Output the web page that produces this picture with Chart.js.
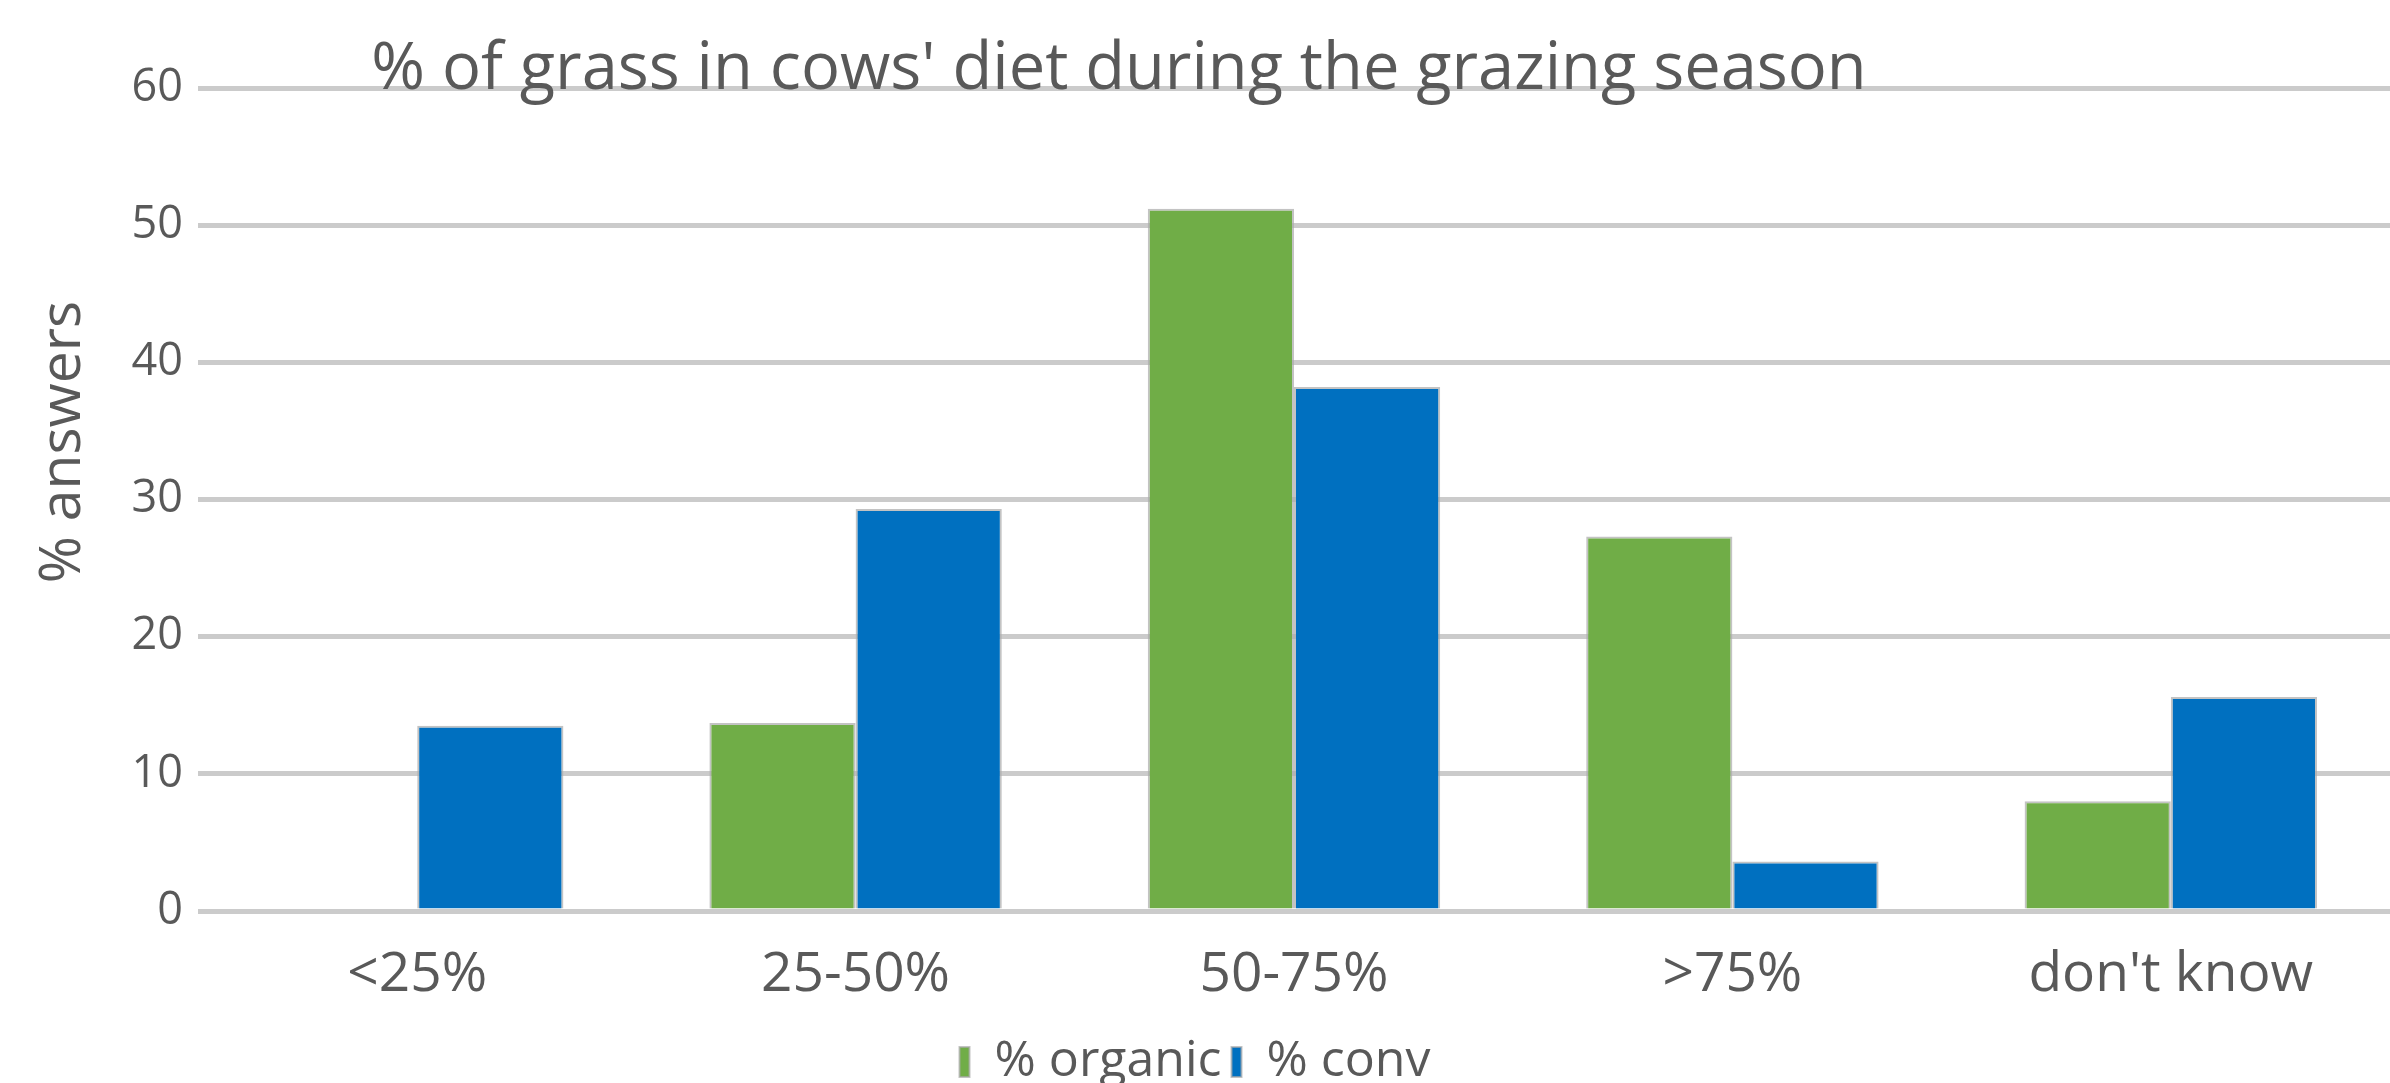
<!DOCTYPE html>
<html lang="en">
<head>
  <meta charset="UTF-8">
  <title>% of grass in cows' diet during the grazing season</title>
  <style>
    html, body { margin: 0; padding: 0; background: #fff; }
    #wrap { width: 2390px; height: 1083px; }
  </style>
</head>
<body>
  <div id="wrap"><canvas id="grassChart" width="2390" height="1083"></canvas></div>

  <script src="https://cdn.jsdelivr.net/npm/chart.js"></script>
  <script>
    // values
    const categories = ['<25%', '25-50%', '50-75%', '>75%', "don't know"];
    const organic = [0, 13.7, 51.2, 27.3, 8.0];
    const conv = [13.5, 29.3, 38.2, 3.6, 15.6];
    const yTicks = [0, 10, 20, 30, 40, 50, 60];

    const chartTitle = "% of grass in cows' diet during the grazing season";
    const yTitle = '% answers';
    const textGray = '#595959';
    const fontFamily = '"Open Sans", "Noto Sans", sans-serif';

    // title sits on the 60 gridline, left of centre; y title sits above the middle
    const titlesPlugin = {
      id: 'offTitles',
      afterDraw(chart) {
        const ctx = chart.ctx;
        ctx.save();
        ctx.fillStyle = textGray;
        ctx.textAlign = 'center';

        ctx.font = '65px ' + fontFamily;
        ctx.textBaseline = 'alphabetic';
        ctx.fillText(chartTitle, 1119, 89);

        ctx.translate(64, 442);
        ctx.rotate(-Math.PI / 2);
        ctx.font = '57px ' + fontFamily;
        ctx.textBaseline = 'middle';
        ctx.fillText(yTitle, 0, 0);
        ctx.restore();
      }
    };

    const ctx = document.getElementById('grassChart').getContext('2d');
    new Chart(ctx, {
      type: 'bar',
      data: {
        labels: categories,
        datasets: [
          {
            label: '% organic',
            data: organic,
            backgroundColor: '#70AD47',
            borderColor: 'rgba(170,170,170,0.7)',
            borderWidth: 2,
            borderSkipped: 'bottom'
          },
          {
            label: '% conv',
            data: conv,
            backgroundColor: '#0070C0',
            borderColor: 'rgba(170,170,170,0.7)',
            borderWidth: 2,
            borderSkipped: 'bottom'
          }
        ]
      },
      options: {
        responsive: false,
        animation: false,
        layout: { padding: { top: 88, right: 0, left: 0, bottom: -14 } },
        datasets: {
          bar: { categoryPercentage: 0.667, barPercentage: 1.0 }
        },
        plugins: {
          title: { display: false },
          tooltip: { enabled: false },
          legend: {
            position: 'bottom',
            labels: {
              color: textGray,
              font: { family: fontFamily, size: 50 },
              boxWidth: 10,
              boxHeight: 30,
              padding: 10
            }
          }
        },
        scales: {
          x: {
            grid: { display: false },
            border: { display: false },
            ticks: {
              color: textGray,
              font: { family: fontFamily, size: 55 },
              padding: 23,
              maxRotation: 0
            },
            afterFit(scale) { scale.height = 116; }
          },
          y: {
            min: 0,
            max: 60,
            afterBuildTicks(scale) { scale.ticks = yTicks.map(v => ({ value: v })); },
            grid: { color: '#cbcbcb', lineWidth: 5, drawTicks: false },
            border: { display: false },
            ticks: {
              color: textGray,
              font: { family: fontFamily, size: 45 },
              padding: 15
            },
            afterFit(scale) { scale.width = 198; }
          }
        }
      },
      plugins: [titlesPlugin]
    });
  </script>
</body>
</html>
